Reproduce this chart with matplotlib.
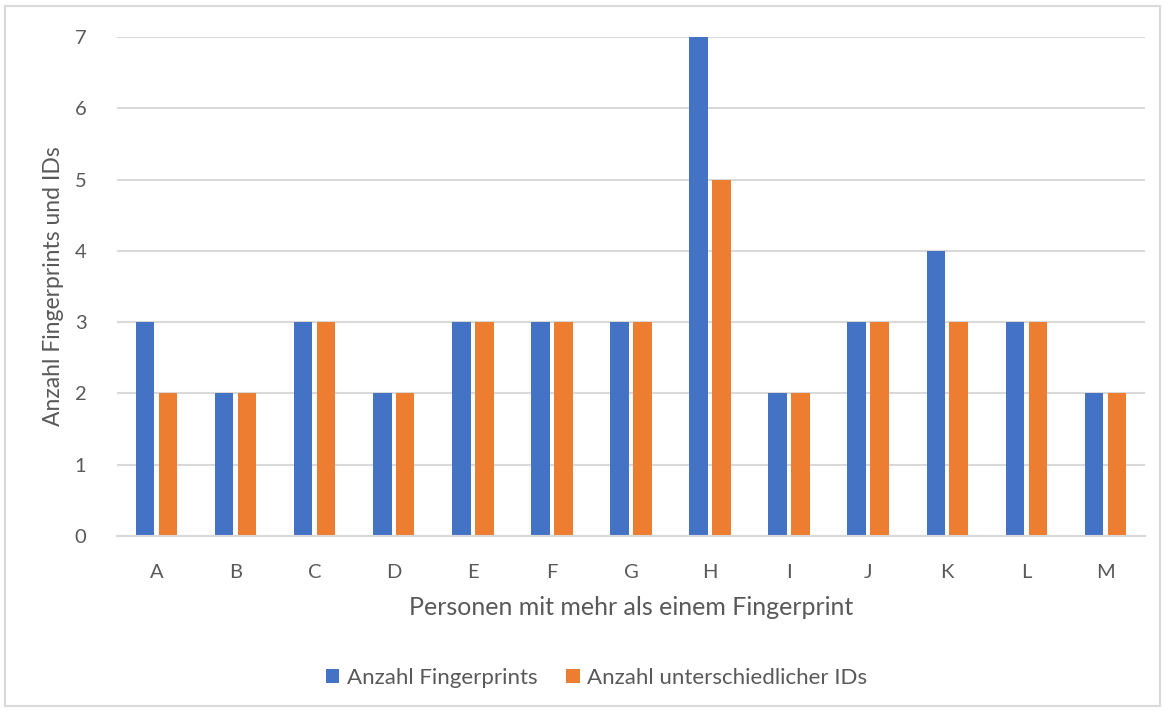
import numpy as np
import matplotlib.pyplot as plt
from matplotlib.patches import Rectangle

PERSONS = ["A", "B", "C", "D", "E", "F", "G", "H", "I", "J", "K", "L", "M"]
FINGERPRINTS = [3, 2, 3, 2, 3, 3, 3, 7, 2, 3, 4, 3, 2]
DISTINCT_IDS = [2, 2, 3, 2, 3, 3, 3, 5, 2, 3, 3, 3, 2]

BLUE = "#4472C4"
ORANGE = "#ED7D31"
GRID = "#D9D9D9"
TEXT = "#595959"
BAR_WIDTH = 0.235
OFFSET = 0.145

plt.rcParams["font.family"] = ["Lato", "DejaVu Sans"]

fig = plt.figure(figsize=(11.65, 7.14), dpi=100)
ax = fig.add_axes([0.1004, 0.2493, 0.8824, 0.6989])

x = np.arange(len(PERSONS))
ax.bar(x - OFFSET, FINGERPRINTS, BAR_WIDTH, color=BLUE, label="Anzahl Fingerprints", zorder=3)
ax.bar(x + OFFSET, DISTINCT_IDS, BAR_WIDTH, color=ORANGE, label="Anzahl unterschiedlicher IDs", zorder=3)

ax.set_xlim(-0.5, len(PERSONS) - 0.5)
ax.set_ylim(0, 7)
ax.set_yticks(range(0, 8))
ax.set_xticks(x)
ax.set_xticklabels(PERSONS)

ax.grid(axis="y", color=GRID, linewidth=1.5, zorder=0)
for side in ["top", "right", "left"]:
    ax.spines[side].set_visible(False)
ax.spines["bottom"].set_color(GRID)
ax.spines["bottom"].set_linewidth(1.5)
ax.spines["bottom"].set_zorder(4)
ax.tick_params(axis="both", length=0, labelsize=14.5, labelcolor=TEXT)
ax.tick_params(axis="x", pad=20)
ax.tick_params(axis="y", pad=22)

ax.set_xlabel("Personen mit mehr als einem Fingerprint", fontsize=18, color=TEXT, labelpad=11)
ax.set_ylabel("Anzahl Fingerprints und IDs", fontsize=16.5, color=TEXT, labelpad=8)

fig.legend(loc="center", bbox_to_anchor=(0.512, 0.0504), ncol=2, frameon=False,
           fontsize=16, labelcolor=TEXT, handlelength=0.6, handleheight=0.6,
           handletextpad=0.35, columnspacing=1.3)

# light frame around the whole chart
fig.patches.append(Rectangle((5 / 1165, 8 / 714), 1155 / 1165, 700 / 714,
                             transform=fig.transFigure, fill=False,
                             edgecolor=GRID, linewidth=1.5))

fig.savefig("out.png", dpi=100, facecolor="white")
